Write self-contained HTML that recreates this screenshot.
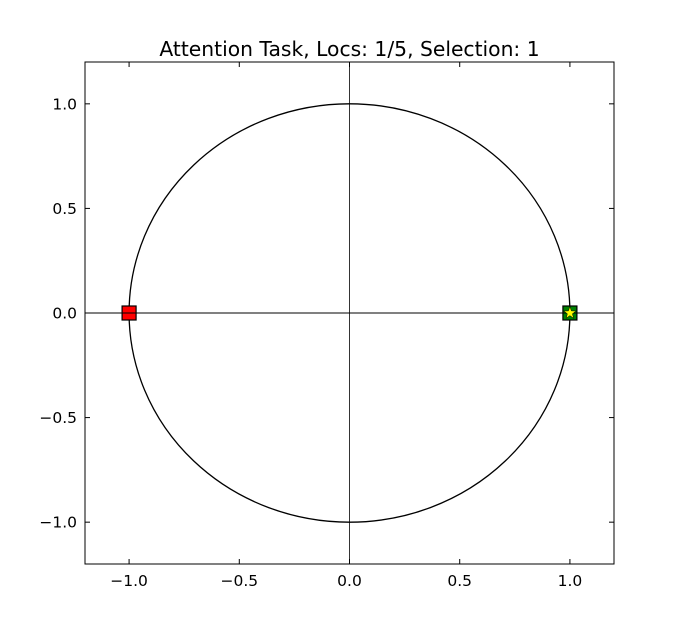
<!DOCTYPE html>
<html><head><meta charset="utf-8"><style>
body{margin:0;background:#fff;}
svg{display:block;font-family:"DejaVu Sans","Liberation Sans",sans-serif;}
</style></head><body>
<svg id="chart" width="682" height="627" viewBox="0 0 682 627" xmlns="http://www.w3.org/2000/svg">
<rect width="682" height="627" fill="#fff"/>
<text x="349.5" y="56" font-size="20.3" text-anchor="middle">Attention Task, Locs: 1/5, Selection: 1</text>
<g id="plot"></g>
</svg>
<script>
const xTicks=[-1.0,-0.5,0.0,0.5,1.0];
const yTicks=[1.0,0.5,0.0,-0.5,-1.0];
const tickLabels=["\u22121.0","\u22120.5","0.0","0.5","1.0"];
const locX=[-1,1];
const locY=[0,0];
const locColors=["#ff0000","#008000"];
const selectedIndex=[1];
const L=85,R=614,T=62,B=564,XMIN=-1.2,XMAX=1.2,YMIN=-1.2,YMAX=1.2;
const sx=v=>L+(v-XMIN)/(XMAX-XMIN)*(R-L);
const sy=v=>B-(v-YMIN)/(YMAX-YMIN)*(B-T);
const NS="http://www.w3.org/2000/svg";
const g=document.getElementById('plot');
function mk(t,a){const e=document.createElementNS(NS,t);for(const k in a)e.setAttribute(k,a[k]);g.appendChild(e);return e;}
let e;
e=mk('ellipse',{cx:sx(0),cy:sy(0),rx:sx(1)-sx(0),ry:sy(0)-sy(1),fill:'none',stroke:'#000','stroke-width':1.3});


locX.forEach((x,i)=>{
  const s=14;
  e=mk('rect',{x:sx(x)-s/2,y:sy(locY[i])-s/2,width:s,height:s,fill:locColors[i],stroke:'#000','stroke-width':1.2});
  
  
});
e=mk('line',{x1:L,x2:R,y1:sy(0),y2:sy(0),stroke:'#000','stroke-width':1});


e=mk('line',{x1:sx(0),x2:sx(0),y1:T,y2:B,stroke:'#000','stroke-width':0.8});


selectedIndex.forEach(i=>{
  const cx=sx(locX[i]),cy=sy(locY[i]);let pts=[];
  for(let k=0;k<10;k++){const r=k%2?2.6:6.5,a=-Math.PI/2+k*Math.PI/5;pts.push((cx+r*Math.cos(a)).toFixed(1)+','+(cy+r*Math.sin(a)).toFixed(1));}
  e=mk('polygon',{points:pts.join(' '),fill:'#ffff00',stroke:'#000','stroke-width':0.5});
  
  
});
e=mk('rect',{x:L,y:T,width:R-L,height:B-T,fill:'none',stroke:'#000','stroke-width':1});


xTicks.forEach((v,i)=>{
  const x=sx(v);
  mk('line',{x1:x,x2:x,y1:B,y2:B-5,stroke:'#000'});
  mk('line',{x1:x,x2:x,y1:T,y2:T+5,stroke:'#000'});
  e=mk('text',{x:x,y:B+22,'font-size':15.5,'text-anchor':'middle'});e.textContent=tickLabels[i];
  
  
});
yTicks.forEach((v,i)=>{
  const y=sy(v);
  mk('line',{x1:L,x2:L+5,y1:y,y2:y,stroke:'#000'});
  mk('line',{x1:R,x2:R-5,y1:y,y2:y,stroke:'#000'});
  e=mk('text',{x:L-8,y:y+5.5,'font-size':15.5,'text-anchor':'end'});e.textContent=tickLabels[4-i];
  
  
});
</script>
</body></html>
